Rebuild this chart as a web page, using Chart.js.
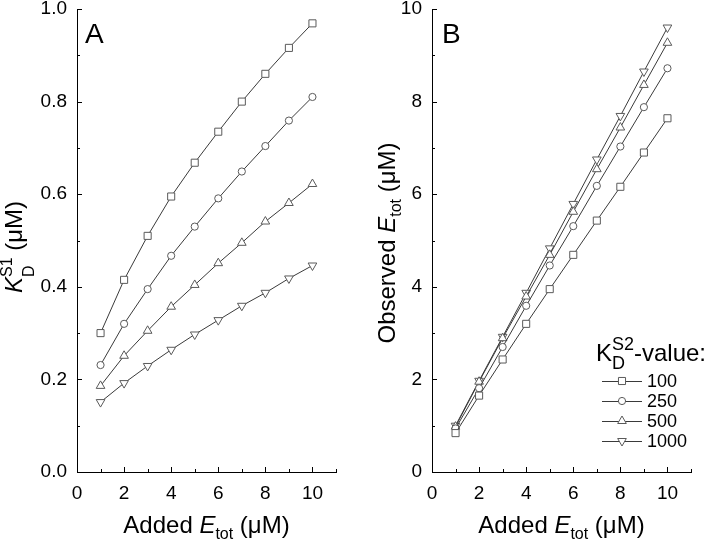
<!DOCTYPE html>
<html>
<head>
<meta charset="utf-8">
<script src="https://cdn.jsdelivr.net/npm/chart.js@4.4.1/dist/chart.umd.min.js"></script>
<style>
    html, body { margin: 0; padding: 0; background: #fff; }
    #wrap { position: relative; width: 720px; height: 540px; }
    .panel { position: absolute; top: 0; width: 360px; height: 540px; }
</style>
</head>
<body>
<div id="wrap">
    <div class="panel" style="left:0"><canvas id="chartA" width="360" height="540"></canvas></div>
    <div class="panel" style="left:360px"><canvas id="chartB" width="360" height="540"></canvas></div>
</div>
<script>
// Added enzyme (x values, µM) shared by both panels
const addedEtot = [1, 2, 3, 4, 5, 6, 7, 8, 9, 10];

// KD S2 values used for the four series (legend labels)
const kdS2Labels = ['100', '250', '500', '1000'];

// Panel A: apparent KD S1 (µM)
const kdS1At100  = [0.300, 0.415, 0.510, 0.595, 0.668, 0.735, 0.800, 0.860, 0.916, 0.969];
const kdS1At250  = [0.231, 0.320, 0.395, 0.467, 0.530, 0.591, 0.649, 0.704, 0.759, 0.810];
const kdS1At500  = [0.186, 0.251, 0.305, 0.357, 0.404, 0.451, 0.495, 0.541, 0.581, 0.622];
const kdS1At1000 = [0.151, 0.192, 0.229, 0.264, 0.297, 0.328, 0.359, 0.387, 0.418, 0.446];

// Panel B: observed Etot (µM)
const obsAt100  = [0.84, 1.65, 2.43, 3.20, 3.95, 4.69, 5.43, 6.16, 6.90, 7.64];
const obsAt250  = [0.94, 1.81, 2.70, 3.59, 4.46, 5.31, 6.18, 7.03, 7.88, 8.72];
const obsAt500  = [0.98, 1.95, 2.89, 3.79, 4.69, 5.62, 6.54, 7.44, 8.36, 9.27];
const obsAt1000 = [1.00, 1.97, 2.92, 3.87, 4.83, 5.79, 6.75, 7.69, 8.65, 9.60];

// Tick settings
const xTickStep = 2;
const yTickStepA = 0.2;
const yTickStepB = 2;

const FONT = "'Liberation Sans', Arial, sans-serif";
Chart.defaults.font.family = FONT;
Chart.defaults.color = '#000';

// marker styles per series (square, circle, triangle, down triangle)
const markerStyles = [
    { pointStyle: 'rect', radius: 5, rotation: 0 },
    { pointStyle: 'circle', radius: 3.6, rotation: 0 },
    { pointStyle: 'triangle', radius: 5, rotation: 0 },
    { pointStyle: 'triangle', radius: 5, rotation: 180 }
];

function makeDatasets(seriesList) {
    return seriesList.map((vals, i) => ({
        label: kdS2Labels[i],
        data: vals.map((v, j) => ({ x: addedEtot[j], y: v })),
        borderColor: '#3a3a3a',
        borderWidth: 1,
        pointStyle: markerStyles[i].pointStyle,
        pointRadius: markerStyles[i].radius,
        pointRotation: markerStyles[i].rotation,
        pointBackgroundColor: '#fff',
        pointBorderColor: '#5a5a5a',
        pointBorderWidth: 1,
        fill: false,
        tension: 0
    }));
}

// draw a list of text runs (supports sub/superscripts), centred on cx/cy
function drawRuns(ctx, runs, cx, cy, rotated) {
    ctx.save();
    ctx.translate(cx, cy);
    if (rotated) ctx.rotate(-Math.PI / 2);
    ctx.textBaseline = 'alphabetic';
    ctx.textAlign = 'left';
    ctx.fillStyle = '#000';
    const fontOf = r => (r.italic ? 'italic ' : '') + r.size + 'px ' + FONT;
    // measure
    let total = 0, prevW = 0;
    runs.forEach(r => {
        ctx.font = fontOf(r);
        const w = ctx.measureText(r.t).width;
        if (r.stack) { total += Math.max(0, w - prevW); prevW = Math.max(prevW, w); }
        else { total += w; prevW = w; }
        r._w = w;
    });
    let x = -total / 2, lastX = x;
    prevW = 0;
    runs.forEach(r => {
        ctx.font = fontOf(r);
        if (r.stack) {
            ctx.fillText(r.t, lastX, r.dy || 0);
            x = lastX + Math.max(prevW, r._w);
        } else {
            ctx.fillText(r.t, x, r.dy || 0);
            lastX = x;
            prevW = r._w;
            x += r._w;
        }
    });
    ctx.restore();
}

// inward ticks, major + minor
const innerTicks = {
    id: 'innerTicks',
    afterDraw(chart, args, opts) {
        const ctx = chart.ctx;
        const xs = chart.scales.x, ys = chart.scales.y;
        const eps = 1e-9;
        ctx.save();
        ctx.strokeStyle = '#000';
        ctx.lineWidth = 1;
        ctx.beginPath();
        for (let v = xs.min; v <= xs.max + eps; v += opts.xMinor) {
            const major = Math.abs(v / opts.xMajor - Math.round(v / opts.xMajor)) < 1e-6;
            const len = major ? 5 : 3;
            const px = Math.round(xs.getPixelForValue(v)) + 0.5;
            ctx.moveTo(px, ys.bottom);
            ctx.lineTo(px, ys.bottom - len);
        }
        for (let v = ys.min; v <= ys.max + eps; v += opts.yMinor) {
            const major = Math.abs(v / opts.yMajor - Math.round(v / opts.yMajor)) < 1e-6;
            const len = major ? 5 : 3;
            const py = Math.round(ys.getPixelForValue(v)) + 0.5;
            ctx.moveTo(xs.left, py);
            ctx.lineTo(xs.left + len, py);
        }
        ctx.stroke();
        ctx.restore();
    }
};

const titles = {
    id: 'titles',
    afterDraw(chart, args, opts) {
        const ctx = chart.ctx;
        const area = chart.chartArea;
        // panel letter
        ctx.save();
        ctx.font = '28px ' + FONT;
        ctx.fillStyle = '#000';
        ctx.textBaseline = 'alphabetic';
        ctx.fillText(opts.letter, area.left + opts.letterDx, opts.letterY);
        ctx.restore();
        drawRuns(ctx, opts.xTitle, (area.left + area.right) / 2, 533, false);
        drawRuns(ctx, opts.yTitle, opts.yTitleX, opts.yTitleY, true);
    }
};

const kdLegend = {
    id: 'kdLegend',
    afterDraw(chart, args, opts) {
        if (!opts.show) return;
        const ctx = chart.ctx;
        drawRuns(ctx, [
            { t: 'K', size: 24 },
            { t: 'D', size: 18, dy: 8 },
            { t: 'S2', size: 18, dy: -11, stack: true },
            { t: '-value:', size: 24 }
        ], opts.headerX, opts.headerY, false);
        chart.data.datasets.forEach((ds, i) => {
            const y = opts.rowY + i * opts.rowGap;
            ctx.save();
            ctx.strokeStyle = ds.borderColor;
            ctx.lineWidth = 1;
            ctx.beginPath();
            ctx.moveTo(opts.x, y + 0.5);
            ctx.lineTo(opts.x + 40, y + 0.5);
            ctx.stroke();
            ctx.fillStyle = ds.pointBackgroundColor;
            ctx.strokeStyle = ds.pointBorderColor;
            Chart.helpers.drawPoint(ctx, {
                pointStyle: ds.pointStyle,
                rotation: ds.pointRotation,
                radius: ds.pointRadius,
                borderWidth: 1
            }, opts.x + 20, y);
            ctx.fillStyle = '#000';
            ctx.font = '18px ' + FONT;
            ctx.textBaseline = 'middle';
            ctx.fillText(ds.label, opts.x + 45, y + 1);
            ctx.restore();
        });
    }
};

function makeChart(canvasId, seriesList, yMax, yStep, yFmt, leftWidth, rightPad, extra) {
    return new Chart(document.getElementById(canvasId), {
        type: 'line',
        data: { datasets: makeDatasets(seriesList) },
        plugins: [innerTicks, titles, kdLegend],
        options: {
            responsive: false,
            animation: false,
            events: [],
            layout: { padding: { top: 9, right: rightPad, left: 0, bottom: 0 } },
            plugins: {
                legend: { display: false },
                tooltip: { enabled: false },
                innerTicks: { xMajor: xTickStep, xMinor: xTickStep / 2, yMajor: yStep, yMinor: yStep / 2 },
                titles: extra.titles,
                kdLegend: extra.legend
            },
            scales: {
                x: {
                    type: 'linear',
                    min: 0,
                    max: 11,
                    border: { display: true, color: '#000', width: 1 },
                    grid: { display: false, drawTicks: false },
                    ticks: {
                        stepSize: xTickStep,
                        includeBounds: false,
                        padding: 10,
                        font: { size: 19 },
                        maxRotation: 0,
                        callback: v => String(v)
                    },
                    afterFit: s => { s.height = 68; s.paddingLeft = 0; s.paddingRight = 0; }
                },
                y: {
                    min: 0,
                    max: yMax,
                    border: { display: true, color: '#000', width: 1 },
                    grid: { display: false, drawTicks: false },
                    ticks: {
                        stepSize: yStep,
                        padding: 10,
                        font: { size: 19 },
                        callback: yFmt
                    },
                    afterFit: s => { s.width = leftWidth; s.paddingTop = 0; s.paddingBottom = 0; }
                }
            }
        }
    });
}

const xTitleRuns = [
    { t: 'Added ', size: 24 },
    { t: 'E', size: 24, italic: true },
    { t: 'tot', size: 16, dy: 6 },
    { t: ' (\u03bcM)', size: 24 }
];

makeChart('chartA', [kdS1At100, kdS1At250, kdS1At500, kdS1At1000], 1.0, yTickStepA,
    v => v.toFixed(1), 77, 24, {
        titles: {
            letter: 'A', letterDx: 8, letterY: 43,
            xTitle: xTitleRuns,
            yTitle: [
                { t: 'K', size: 24, italic: true },
                { t: 'D', size: 16, dy: 12 },
                { t: 'S1', size: 16, dy: -10, stack: true },
                { t: ' (\u03bcM)', size: 24 }
            ],
            yTitleX: 22, yTitleY: 247
        },
        legend: { show: false }
    });

makeChart('chartB', [obsAt100, obsAt250, obsAt500, obsAt1000], 10, yTickStepB,
    v => String(v), 72, 29, {
        titles: {
            letter: 'B', letterDx: 10, letterY: 43,
            xTitle: xTitleRuns,
            yTitle: [
                { t: 'Observed ', size: 24 },
                { t: 'E', size: 24, italic: true },
                { t: 'tot', size: 16, dy: 6 },
                { t: ' (\u03bcM)', size: 24 }
            ],
            yTitleX: 35, yTitleY: 243
        },
        legend: { show: true, x: 242, headerX: 291, headerY: 361, rowY: 381, rowGap: 20 }
    });
</script>
</body>
</html>
